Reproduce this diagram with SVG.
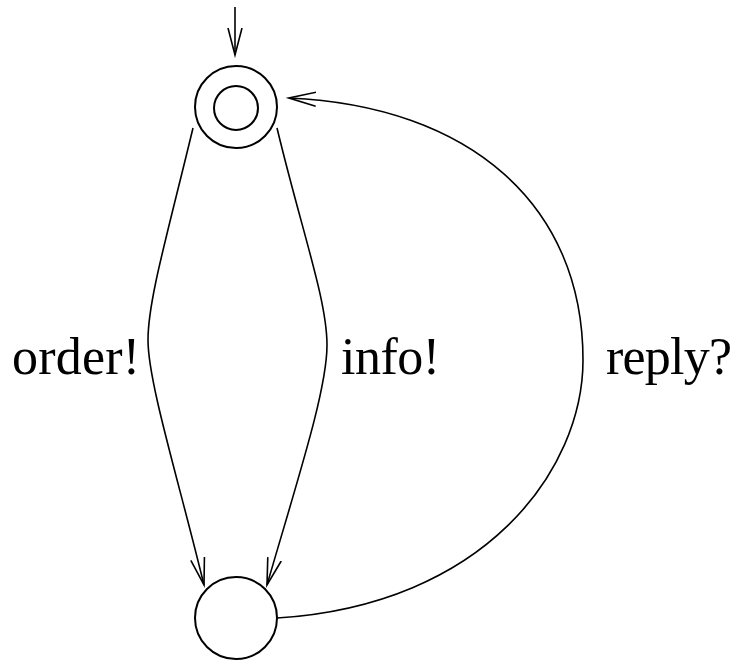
<svg xmlns="http://www.w3.org/2000/svg" width="741" height="660" viewBox="0 0 741 660">
<style>
.st{fill:none;stroke:#000;stroke-width:2}
.e{fill:none;stroke:#000;stroke-width:1.6}
.lbl{font-family:"Liberation Serif","Times New Roman",serif;font-size:52px;fill:#000}
</style>
<defs>
<marker id="ah" markerWidth="30" markerHeight="16" refX="27" refY="7" orient="auto" markerUnits="userSpaceOnUse" viewBox="0 0 30 14">
<path d="M0,0 L27,7 L0,14" fill="none" stroke="#000" stroke-width="1.6"/>
</marker>
</defs>
<rect width="741" height="660" fill="#fff"/>
<g id="connectors">
<path id="init" class="e" d="M235,7 L235,55" marker-end="url(#ah)"/>
<path id="order" class="e" d="M193,128 C168,232 148,300 148,340 C148,382 178,478 204,585" marker-end="url(#ah)"/>
<path id="info" class="e" d="M277,128 C302,232 327,300 327,345 C327,390 298,478 267,585" marker-end="url(#ah)"/>
<path id="reply" class="e" d="M277,618 C485,605 583,470 583,360 C583,205 470,106 289,98" marker-end="url(#ah)"/>
</g>
<g id="s0">
<circle class="st" cx="236" cy="107" r="41"/>
<circle class="st" cx="236" cy="108" r="22"/>
</g>
<g id="s1">
<circle class="st" cx="236" cy="618" r="41"/>
</g>
<g id="labels">
<text class="lbl" x="12" y="374" textLength="128" lengthAdjust="spacing">order!</text>
<text class="lbl" x="341" y="374" textLength="99" lengthAdjust="spacing">info!</text>
<text class="lbl" x="606" y="374" textLength="126" lengthAdjust="spacing">reply?</text>
</g>
</svg>
